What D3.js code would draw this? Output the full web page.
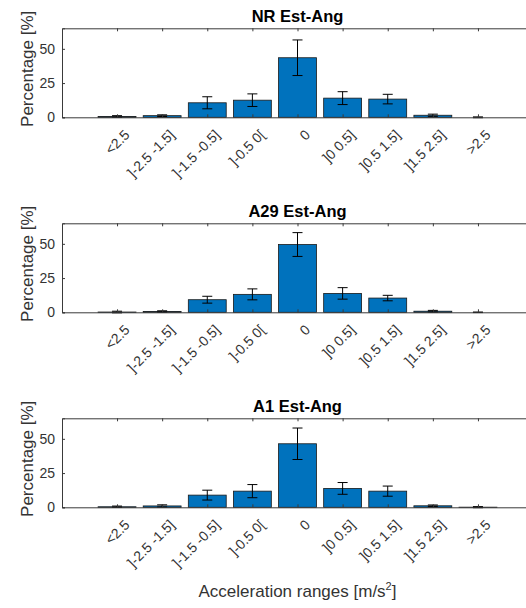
<!DOCTYPE html>
<html><head><meta charset="utf-8">
<script src="https://cdn.jsdelivr.net/npm/d3@7"></script>
<style>
html,body{margin:0;padding:0;background:#fff;}
svg{display:block;font-family:"Liberation Sans",Arial,Helvetica,sans-serif;}
</style></head>
<body><svg id="chart" width="526" height="608"></svg>
<script>
const categories = ["<2.5","]-2.5 -1.5]","]-1.5 -0.5]","]-0.5 0[","0","]0 0.5]","]0.5 1.5]","]1.5 2.5]",">2.5"];
const panelTitles = ["NR Est-Ang","A29 Est-Ang","A1 Est-Ang"];
const nrValues  = [0.6,1.2,10.6,12.5,43.5,14.0,13.3,1.5,0];
const nrErrors  = [0.6,0.6,4.4,4.6,13.0,4.7,3.5,0.8,0.3];
const a29Values = [0.2,0.6,9.2,13.1,49.5,13.8,10.4,0.8,0];
const a29Errors = [0.6,0.5,2.5,4.0,8.7,4.2,2.0,0.6,0.2];
const a1Values  = [0.4,1.0,8.9,11.8,46.4,13.8,11.8,1.1,0.1];
const a1Errors  = [0.5,0.8,3.6,4.8,11.5,4.3,3.7,0.6,0.4];
const yTicks = [0,25,50];
const yLabel = "Percentage [%]";
const xLabel = "Acceleration ranges [m/s";

const panels = [
  {title: panelTitles[0], values: nrValues, errors: nrErrors},
  {title: panelTitles[1], values: a29Values, errors: a29Errors},
  {title: panelTitles[2], values: a1Values, errors: a1Errors}
];

const svg = d3.select("#chart");
const left = 62, right = 533, plotH = 89, tops = [28.3, 223.3, 418.3];
const axisColor = "#3a3a3a", textColor = "#333";
const x = d3.scaleLinear().domain([-1.22, 9.22]).range([left, right]);
const barW = x(0.84) - x(0);

panels.forEach((p, pi) => {
  const top = tops[pi];
  const y = d3.scaleLinear().domain([0, 65]).range([top + plotH, top]);
  const g = svg.append("g");

  // bars
  g.selectAll("rect.bar").data(p.values).join("rect")
    .attr("x", (d,i) => x(i) - barW/2)
    .attr("y", d => y(d))
    .attr("width", barW)
    .attr("height", d => y(0) - y(d))
    .attr("fill", "#0072BD")
    .attr("stroke", "#1a1a1a")
    .attr("stroke-width", 0.8);

  // error bars
  const eb = g.selectAll("g.err").data(p.values.map((v,i)=>({v, e:p.errors[i], i}))).join("g");
  eb.append("line")
    .attr("x1", d => x(d.i)).attr("x2", d => x(d.i))
    .attr("y1", d => y(d.v + d.e)).attr("y2", d => y(Math.max(0,d.v - d.e)))
    .attr("stroke", "#000").attr("stroke-width", 1);
  ["top","bot"].forEach(k => {
    eb.append("line")
      .attr("x1", d => x(d.i) - 5).attr("x2", d => x(d.i) + 5)
      .attr("y1", d => k==="top" ? y(d.v + d.e) : y(d.v - d.e))
      .attr("y2", d => k==="top" ? y(d.v + d.e) : y(d.v - d.e))
      .attr("stroke", "#000").attr("stroke-width", 1);
  });

  // axes (box with inward ticks)
  const xAxisB = d3.axisBottom(x).tickValues(d3.range(categories.length)).tickSize(-3).tickFormat("");
  const xAxisT = d3.axisTop(x).tickValues(d3.range(categories.length)).tickSize(-3).tickFormat("");
  const yAxisL = d3.axisLeft(y).tickValues(yTicks).tickSize(-3).tickPadding(7);
  const yAxisR = d3.axisRight(y).tickValues(yTicks).tickSize(-3).tickFormat("");

  const gb = g.append("g").attr("transform", `translate(0,${y(0)})`).call(xAxisB);
  const gt = g.append("g").attr("transform", `translate(0,${top})`).call(xAxisT);
  const gl = g.append("g").attr("transform", `translate(${left},0)`).call(yAxisL);
  const gr = g.append("g").attr("transform", `translate(${right},0)`).call(yAxisR);
  [gb,gt,gl,gr].forEach(a => {
    a.select(".domain").attr("stroke", axisColor).attr("stroke-width", 1);
    a.selectAll(".tick line").attr("stroke", axisColor);
  });
  gl.selectAll(".tick text").attr("font-size", 14).attr("fill", textColor)
    .attr("font-family", "Liberation Sans, Arial, sans-serif");

  // rotated category labels
  g.selectAll("text.cat").data(categories).join("text")
    .attr("transform", (d,i) => `translate(${x(i)+10},${y(0)+15}) rotate(-45)`)
    .attr("text-anchor", "end")
    .attr("dy", "0.35em")
    .attr("font-size", 14)
    .attr("fill", textColor)
    .text(d => d);

  // title
  g.append("text")
    .attr("x", (left+right)/2).attr("y", top - 6)
    .attr("text-anchor", "middle")
    .attr("font-size", 16.5).attr("font-weight", "bold").attr("fill", "#000")
    .text(p.title);

  // y label
  g.append("text")
    .attr("transform", `translate(${27},${top + plotH/2 - 4}) rotate(-90)`)
    .attr("text-anchor", "middle").attr("dy", "0.35em")
    .attr("font-size", 17).attr("fill", textColor)
    .text(yLabel);
});

// x label
const xl = svg.append("text")
  .attr("x", (left+right)/2).attr("y", 597)
  .attr("text-anchor", "middle")
  .attr("font-size", 17).attr("fill", textColor);
xl.append("tspan").text(xLabel);
xl.append("tspan").attr("font-size", 11).attr("dy", -7).text("2");
xl.append("tspan").attr("dy", 7).text("]");
</script></body></html>
